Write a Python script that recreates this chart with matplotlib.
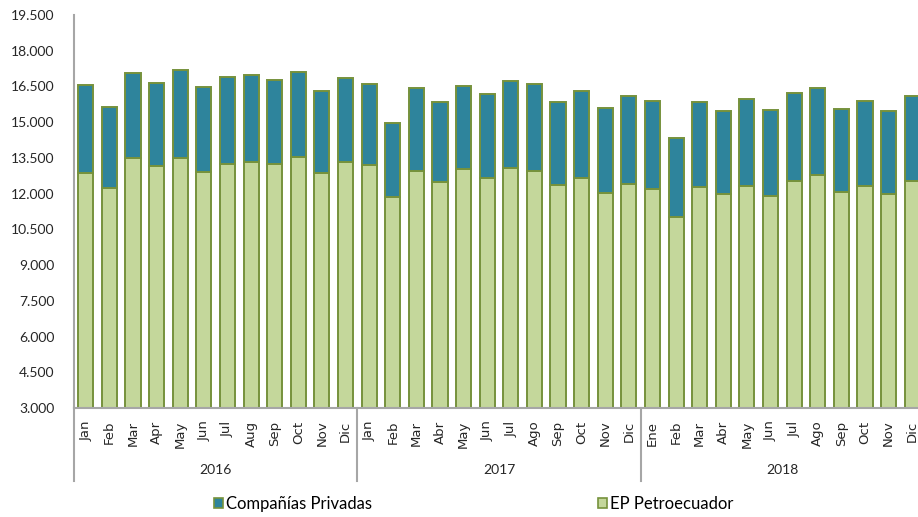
import numpy as np
import matplotlib
matplotlib.use("Agg")
import matplotlib.pyplot as plt
from matplotlib.patches import Patch
from matplotlib.ticker import FuncFormatter, MultipleLocator

# Data
years = ["2016", "2017", "2018"]
months = ["Jan", "Feb", "Mar", "Apr", "May", "Jun", "Jul", "Aug", "Sep", "Oct", "Nov", "Dic",
          "Jan", "Feb", "Mar", "Abr", "May", "Jun", "Jul", "Ago", "Sep", "Oct", "Nov", "Dic",
          "Ene", "Feb", "Mar", "Abr", "May", "Jun", "Jul", "Ago", "Sep", "Oct", "Nov", "Dic"]

petroecuador = [12860, 12230, 13480, 13160, 13490, 12890, 13230, 13320, 13230, 13520, 12880, 13320,
                13190, 11870, 12960, 12470, 13020, 12670, 13070, 12960, 12370, 12650, 12040, 12390,
                12190, 11000, 12260, 11970, 12330, 11920, 12550, 12780, 12050, 12320, 12000, 12550]
privadas = [3690, 3400, 3590, 3480, 3720, 3580, 3660, 3680, 3550, 3590, 3420, 3530,
            3420, 3100, 3460, 3360, 3490, 3520, 3680, 3630, 3480, 3640, 3560, 3710,
            3690, 3350, 3580, 3500, 3650, 3580, 3660, 3640, 3490, 3590, 3450, 3540]

c_blue = "#2E849C"
c_green = "#C4D79B"
c_edge = "#76923C"
c_axis = "#A6A6A6"

fig = plt.figure(figsize=(9.18, 5.17), dpi=100)
# axes runs a bit past the right edge, like the clipped original
ax = fig.add_axes([74 / 918, 109 / 517, 850 / 918, 393 / 517])

x = np.arange(len(months))
ax.bar(x, petroecuador, width=0.64, bottom=0, color=c_green, edgecolor=c_edge, linewidth=1.4, zorder=2)
ax.bar(x, privadas, width=0.64, bottom=petroecuador, color=c_blue, edgecolor=c_edge, linewidth=1.4, zorder=2)

ax.set_xlim(-0.5, len(months) - 0.5)
ax.set_ylim(3000, 19500)
ax.yaxis.set_major_locator(MultipleLocator(1500))
ax.yaxis.set_major_formatter(FuncFormatter(lambda v, p: f"{v:,.0f}".replace(",", ".")))

for s in ["top", "right"]:
    ax.spines[s].set_visible(False)
for s in ["left", "bottom"]:
    ax.spines[s].set_color(c_axis)
    ax.spines[s].set_linewidth(1.5)

ax.tick_params(axis="y", length=0, pad=14, labelsize=10, labelcolor="#262626")
for lab in ax.get_yticklabels():
    lab.set_family("Lato")

ax.set_xticks(x)
ax.set_xticklabels(months, rotation=90, fontsize=9.5, family="DejaVu Sans", color="#262626")
ax.tick_params(axis="x", length=0, pad=9)

# year groups: separators and labels
trans = ax.get_xaxis_transform()
for i in range(len(years) + 1):
    xs = -0.5 + 12 * i
    ax.plot([xs, xs], [0, -0.186], transform=trans, color=c_axis, lw=1.5, clip_on=False)
for i, yr in enumerate(years):
    ax.text(5.5 + 12 * i, -0.158, yr, transform=trans, ha="center", va="center",
            fontsize=10, family="Lato", color="#262626")

handles = [Patch(facecolor=c_blue, edgecolor=c_edge, linewidth=1.2, label="Compañías Privadas"),
           Patch(facecolor=c_green, edgecolor=c_edge, linewidth=1.2, label="EP Petroecuador")]
fig.legend(handles=handles, loc="center left", bbox_to_anchor=(214 / 918, 13 / 517), ncol=2,
           frameon=False, handlelength=0.55, handleheight=0.55, handletextpad=0.15,
           columnspacing=13.6, borderaxespad=0, borderpad=0,
           prop={"family": "Lato", "size": 12})

fig.savefig("out.png", dpi=100)
